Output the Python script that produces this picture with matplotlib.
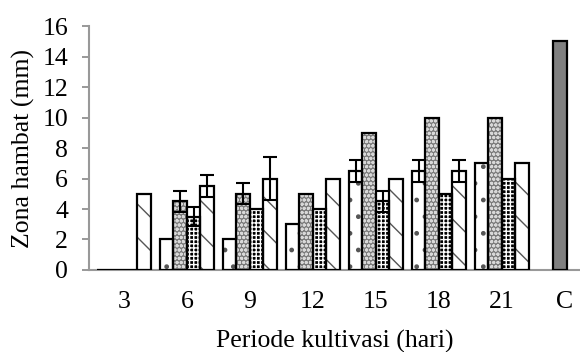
import matplotlib
matplotlib.use("Agg")
import matplotlib.pyplot as plt
import numpy as np

plt.rcParams['font.family'] = ['Liberation Serif', 'DejaVu Serif']
plt.rcParams['hatch.linewidth'] = 1.0

categories = ["3", "6", "9", "12", "15", "18", "21", "C"]
# four treatment series for days 3..21
s1 = [0, 2, 2, 3, 6.5, 6.5, 7]
s2 = [0, 4.5, 5, 5, 9, 10, 10]
s3 = [0, 3.5, 4, 4, 4.5, 5, 6]
s4 = [5, 5.5, 6, 6, 6, 6.5, 7]
e1 = [0, 0, 0, 0, 0.7, 0.7, 0]
e2 = [0, 0.7, 0.7, 0, 0, 0, 0]
e3 = [0, 0.6, 0, 0, 0.7, 0, 0]
e4 = [0, 0.7, 1.4, 0, 0, 0.7, 0]
control = 15

series = [s1, s2, s3, s4]
errors = [e1, e2, e3, e4]
# (face, hatch, hatch colour)
styles = [
    ("white", ".", "#555555"),
    ("#7a7a7a", "oooo", "#d8d8d8"),
    ("black", "++++", "white"),
    ("white", "\\", "#555555"),
]

fig = plt.figure(figsize=(5.8, 3.52), dpi=100)
ax = fig.add_axes([0.1534, 0.233, 0.8466, 0.693])

x = np.arange(7)
w = 0.214
for i, (vals, errs, (fc, hatch, hc)) in enumerate(zip(series, errors, styles)):
    pos = x + (i - 1.5) * w
    ax.bar(pos, vals, w, color=fc, hatch=hatch, edgecolor=hc, linewidth=0, zorder=2)
    ax.bar(pos, vals, w, fill=False, edgecolor="black", linewidth=1.6, zorder=3)
    errs = np.array(errs)
    m = errs > 0
    ax.errorbar(pos[m], np.array(vals)[m], yerr=errs[m], fmt="none",
                ecolor="black", elinewidth=1.5, capsize=5, capthick=1.5, zorder=4)

ax.bar(7 - 0.08, control, w, color="#808080", edgecolor="black", linewidth=1.6, zorder=3)

ax.set_xlim(-0.556, 7.24)
ax.set_ylim(0, 16)
ax.set_yticks(range(0, 17, 2))
ax.set_xticks(range(8))
ax.set_xticklabels(categories)
ax.tick_params(axis="x", length=0, pad=15, labelsize=18.5)
ax.tick_params(axis="y", length=5, color="#888888", width=1.2, labelsize=18.5, pad=10)
for s in ["top", "right"]:
    ax.spines[s].set_visible(False)
for s in ["left", "bottom"]:
    ax.spines[s].set_color("#999999")
    ax.spines[s].set_linewidth(1.5)

ax.set_ylabel("Zona hambat (mm)", fontsize=18.5, labelpad=5)
ax.set_xlabel("Periode kultivasi (hari)", fontsize=18.5, labelpad=12)

fig.savefig("out.png", dpi=100)
